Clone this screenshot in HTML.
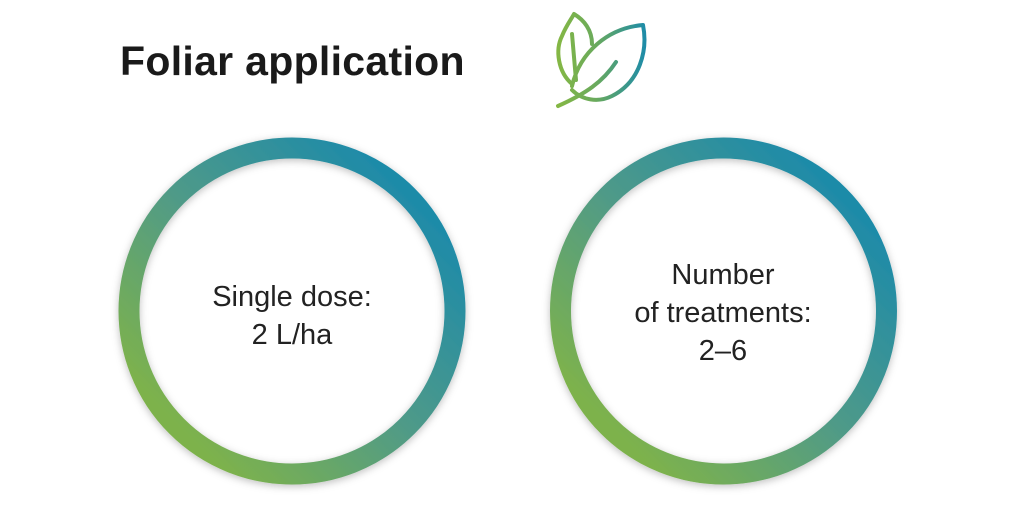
<!DOCTYPE html>
<html><head><style>
html,body{margin:0;padding:0;background:#fff;}
body{width:1024px;height:512px;position:relative;overflow:hidden;font-family:"Liberation Sans",sans-serif;}
.t{position:absolute;left:120px;top:38px;font-size:41px;font-weight:bold;color:#1a1a1a;letter-spacing:0.3px;}
.c{position:absolute;text-align:center;font-size:29px;line-height:38px;color:#222;width:340px;}
</style></head><body>
<div class="t">Foliar application</div>
<svg width="1024" height="512" style="position:absolute;left:0;top:0">
<defs>
<linearGradient id="g" x1="0" y1="1" x2="1" y2="0">
<stop offset="0.15" stop-color="#7db24c"/>
<stop offset="0.5" stop-color="#4f9a88"/>
<stop offset="0.85" stop-color="#1f8ba8"/>
</linearGradient>
<linearGradient id="lg" x1="555" y1="60" x2="645" y2="60" gradientUnits="userSpaceOnUse">
<stop offset="0" stop-color="#86b843"/>
<stop offset="0.45" stop-color="#6aaa5c"/>
<stop offset="1" stop-color="#1e8ca8"/>
</linearGradient>
<filter id="s" x="-20%" y="-20%" width="140%" height="140%"><feDropShadow dx="0" dy="2" stdDeviation="4" flood-color="#000" flood-opacity="0.25"/></filter>
</defs>
<circle cx="292" cy="311" r="163" fill="none" stroke="url(#g)" stroke-width="21" filter="url(#s)"/>
<circle cx="723.5" cy="311" r="163" fill="none" stroke="url(#g)" stroke-width="21" filter="url(#s)"/>
<g fill="none" stroke="url(#lg)" stroke-width="4" stroke-linecap="round" stroke-linejoin="round">
<path d="M572 84 C558 72 555 50 562 36 C566 26 572 18 574 14 C584 20 592 30 592 44"/>
<path d="M572 86 C580 52 608 28 643 25 C648 50 640 82 612 96 C598 103 582 100 572 90"/>
<path d="M572 34 L576 80"/>
<path d="M558 106 C585 94 603 82 616 62"/>
</g>
</svg>
<div class="c" style="left:122px;top:278px">Single dose:<br>2 L/ha</div>
<div class="c" style="left:553px;top:256px">Number<br>of treatments:<br>2–6</div>
</body></html>
